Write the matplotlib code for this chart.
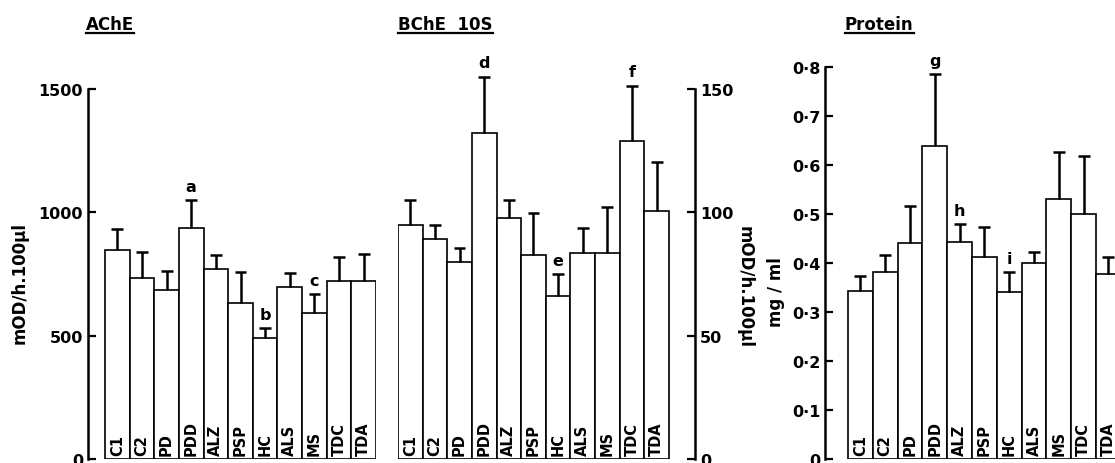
import numpy as np
import matplotlib.pyplot as plt
from matplotlib.lines import Line2D

plt.rcParams['font.family'] = ['DejaVu Sans']
plt.rcParams['font.weight'] = 'bold'

groups = ['C1', 'C2', 'PD', 'PDD', 'ALZ', 'PSP', 'HC', 'ALS', 'MS', 'TDC', 'TDA']

# AChE, mOD/h.100ul
ache = [847, 735, 685, 935, 769, 632, 489, 699, 591, 722, 722]
ache_err = [87, 104, 77, 116, 60, 128, 44, 54, 78, 97, 111]
ache_sig = {'PDD': 'a', 'HC': 'b', 'MS': 'c'}

# BChE 10S, mOD/h.100ul
bche = [94.7, 89, 79.9, 132, 97.6, 82.6, 65.9, 83.4, 83.4, 129, 100.7]
bche_err = [10.3, 5.7, 5.8, 23, 7.4, 17.3, 8.9, 10.1, 18.9, 22.4, 19.8]
bche_sig = {'PDD': 'd', 'HC': 'e', 'TDC': 'f'}

# Protein, mg/ml
prot = [0.343, 0.382, 0.441, 0.638, 0.442, 0.413, 0.341, 0.401, 0.531, 0.500, 0.378]
prot_err = [0.031, 0.034, 0.076, 0.148, 0.038, 0.060, 0.041, 0.022, 0.095, 0.119, 0.034]
prot_sig = {'PDD': 'g', 'ALZ': 'h', 'HC': 'i'}

ache_ticks = [0, 500, 1000, 1500]
bche_ticks = [0, 50, 100, 150]
prot_ticks = [0, 0.1, 0.2, 0.3, 0.4, 0.5, 0.6, 0.7, 0.8]
prot_ticklabels = ['0', '0·1', '0·2', '0·3', '0·4', '0·5', '0·6', '0·7', '0·8']

W, H = 1115, 464
fig = plt.figure(figsize=(W / 100, H / 100), dpi=100)


def px_axes(x0, x1, ytop, ybot):
    return fig.add_axes([x0 / W, (H - ybot) / H, (x1 - x0) / W, (ybot - ytop) / H])


def draw_bars(ax, vals, errs, sig, offset):
    x = np.arange(len(groups))
    vals = np.array(vals)
    tops = vals + np.array(errs)
    ax.bar(x, vals, width=1.0, color='white', edgecolor='black', linewidth=1.2, zorder=2)
    # upper error bars only
    ax.vlines(x, vals, tops, color='black', linewidth=1.8, zorder=3, clip_on=False)
    ax.hlines(tops, x - 0.24, x + 0.24, color='black', linewidth=1.8, zorder=3, clip_on=False)
    for i, g in enumerate(groups):
        ax.annotate(g, (i, 0), xytext=(0, 3), textcoords='offset points', rotation=90,
                    ha='center', va='bottom', fontsize=10.5, fontweight='bold', zorder=4)
        if g in sig:
            ax.annotate(sig[g], (i, tops[i]), xytext=(0, offset),
                        textcoords='offset points', ha='center', va='bottom',
                        fontsize=11.5, fontweight='bold', annotation_clip=False)
    for s in ['top', 'bottom']:
        ax.spines[s].set_visible(False)
    ax.set_xticks([])
    ax.tick_params(axis='y', direction='in', length=6, width=1.6, labelsize=11.5)


# AChE
ax1 = px_axes(88, 376, 90, 460)
draw_bars(ax1, ache, ache_err, ache_sig, 4)
ax1.set_xlim(-0.5 - 17 / 24.6, 10.5)
ax1.set_ylim(0, 1500)
ax1.set_yticks(ache_ticks)
ax1.spines['right'].set_visible(False)
ax1.spines['left'].set_linewidth(1.8)

# BChE 10S
ax2 = px_axes(398, 695, 90, 460)
draw_bars(ax2, bche, bche_err, bche_sig, 5)
ax2.set_xlim(-0.5, 10.5 + 26 / 24.6)
ax2.set_ylim(0, 150)
ax2.set_yticks(bche_ticks)
ax2.spines['left'].set_visible(False)
ax2.spines['right'].set_linewidth(1.8)
ax2.yaxis.tick_right()

# Protein
ax3 = px_axes(825, 1125, 68, 460)
draw_bars(ax3, prot, prot_err, prot_sig, 4)
ax3.set_xlim(-0.5 - 23 / 24.8, -0.5 - 23 / 24.8 + 300 / 24.8)
ax3.set_ylim(0, 0.8)
ax3.set_yticks(prot_ticks)
ax3.set_yticklabels(prot_ticklabels)
ax3.spines['right'].set_visible(False)
ax3.spines['left'].set_linewidth(1.8)

# axis labels
fig.text(20 / W, 1 - 283 / H, 'mOD/h.100µl', rotation=90, ha='center', va='center',
         fontsize=12, fontweight='bold')
fig.text(745 / W, 1 - 287 / H, 'mOD/h.100µl', rotation=270, ha='center', va='center',
         fontsize=12, fontweight='bold')
fig.text(776 / W, 1 - 292 / H, 'mg / ml', rotation=90, ha='center', va='center',
         fontsize=12, fontweight='bold')

# underlined titles
titles = [('AChE', 86), ('BChE  10S', 398), ('Protein', 845)]
fig.canvas.draw()
renderer = fig.canvas.get_renderer()
for label, xpx in titles:
    t = fig.text(xpx / W, 1 - 30 / H, label, ha='left', va='baseline',
                 fontsize=12, fontweight='bold')
    bb = t.get_window_extent(renderer)
    fig.add_artist(Line2D([bb.x0 / W, bb.x1 / W], [1 - 34 / H, 1 - 34 / H],
                          transform=fig.transFigure, color='black', linewidth=1.6))

fig.savefig('out.png', dpi=100)
